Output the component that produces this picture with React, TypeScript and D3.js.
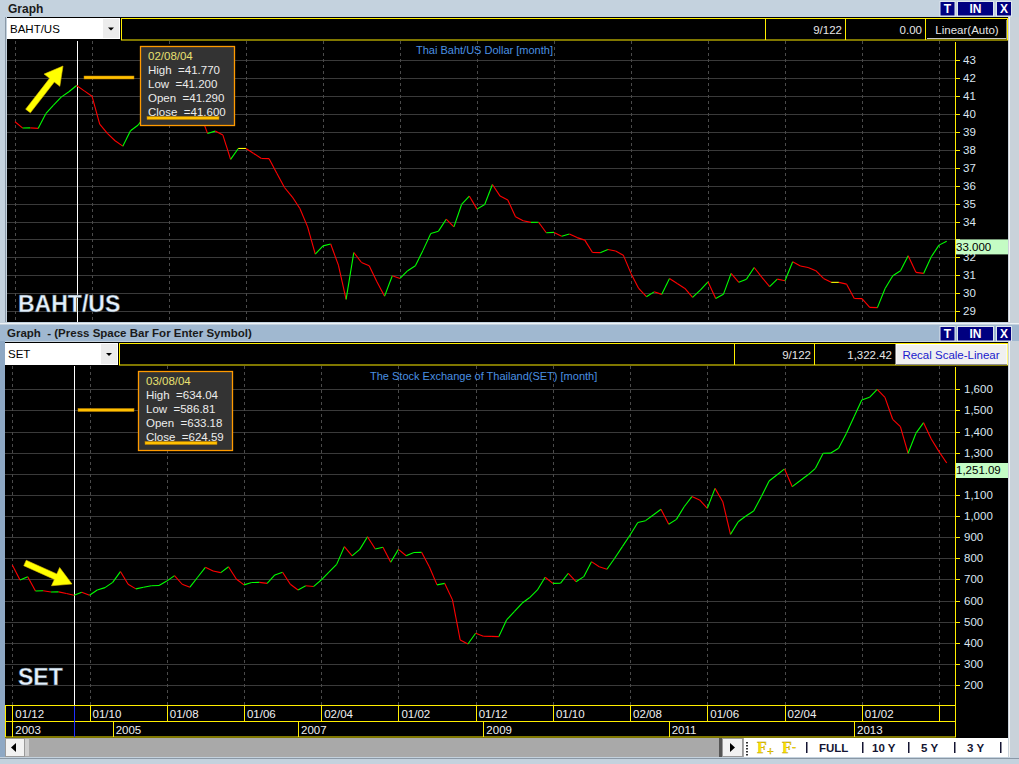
import * as d3 from 'd3'

// monthly closes, Dec 2003 .. Jan 2014 (122 bars)
const bahtClose = [
  39.57, 39.22, 39.23, 39.2, 40.02, 40.5, 40.95, 41.25, 41.6, 41.3,
  41.0, 39.44, 38.92, 38.51, 38.21, 39.07, 39.39, 40.0, 41.2, 41.6,
  41.2, 41.1, 40.9, 41.1, 40.1, 38.92, 39.05, 38.83, 37.47, 38.08,
  38.08, 37.8, 37.52, 37.51, 36.69, 35.9, 35.38, 34.73, 33.7, 32.18,
  32.64, 32.74, 31.56, 29.65, 32.27, 31.71, 31.53, 30.63, 29.83, 30.97,
  30.82, 31.25, 31.53, 32.4, 33.33, 33.46, 34.13, 33.7, 34.95, 35.42,
  34.69, 34.95, 36.07, 35.42, 35.2, 34.27, 34.04, 33.95, 33.96, 33.37,
  33.39, 33.18, 33.3, 33.1, 32.96, 32.27, 32.26, 32.44, 32.35, 32.12,
  31.1, 30.26, 29.8, 30.07, 29.93, 30.82, 30.54, 30.26, 29.76, 30.17,
  30.63, 29.7, 29.93, 31.1, 30.6, 30.78, 31.43, 30.88, 30.36, 30.78,
  30.69, 31.75, 31.51, 31.43, 31.25, 30.82, 30.6, 30.6, 30.5, 29.7,
  29.69, 29.2, 29.19, 30.26, 30.97, 31.25, 32.09, 31.16, 31.1, 32.03,
  32.68, 32.9,
]
const setClose = [
  768, 697, 713, 645, 646, 640, 641, 633, 625, 639,
  625, 650, 661, 686, 737, 677, 655, 663, 670, 671,
  692, 718, 677, 663, 710, 757, 740, 732, 760, 702,
  674, 685, 686, 681, 721, 734, 677, 650, 670, 666,
  697, 734, 771, 855, 811, 842, 902, 844, 852, 781,
  842, 812, 827, 828, 760, 674, 681, 603, 413, 394,
  445, 431, 430, 429, 508, 547, 587, 614, 650, 710,
  681, 682, 729, 689, 713, 784, 760, 748, 800, 855,
  910, 969, 978, 1005, 1032, 961, 984, 1044, 1092, 1076,
  1036, 1131, 1068, 913, 973, 1000, 1024, 1092, 1166, 1194,
  1223, 1139, 1167, 1194, 1226, 1297, 1298, 1321, 1391, 1470,
  1549, 1562, 1600, 1562, 1458, 1423, 1297, 1391, 1442, 1365,
  1305, 1251,
]

const monthTickIndex = [0, 10, 20, 30, 40, 50, 60, 70, 80, 90, 100, 110, 120]
const monthTickLabels = ['01/12', '01/10', '01/08', '01/06', '02/04', '01/02', '01/12', '01/10', '02/08', '01/06', '02/04', '01/02', '']
const yearTickIndex = [0, 13, 37, 61, 85, 109]
const yearTickLabels = ['2003', '2005', '2007', '2009', '2011', '2013']
const bahtTicks = [29, 30, 31, 32, 33, 34, 35, 36, 37, 38, 39, 40, 41, 42, 43]
const setTicks = [200, 300, 400, 500, 600, 700, 800, 900, 1000, 1100, 1200, 1300, 1400, 1500, 1600]
const crossIndex = 8
const bahtTip = ['02/08/04', 'High  =41.770', 'Low  =41.200', 'Open  =41.290', 'Close  =41.600']
const setTip = ['03/08/04', 'High  =634.04', 'Low  =586.81', 'Open  =633.18', 'Close  =624.59']
const bahtLast = 33.0
const setLast = 1251.09

const FONT = '"Liberation Sans", Arial, sans-serif'
const YELLOW = '#ffee00'
const GRID = '#3a3a3a'

const xTop = d3.scaleLinear().domain([0, 120]).range([15, 939])
const yTop = d3.scaleLinear().domain([29, 43]).range([311, 60.4])
const xBot = d3.scaleLinear().domain([0, 120]).range([12.3, 939])
const yBot = d3.scaleLinear().domain([200, 1600]).range([685, 389.3])

const segColor = (a: number, b: number) => (b > a ? '#00ff00' : b < a ? '#ff0000' : '#ffff00')

function PriceLine({ data, x, y }: { data: number[]; x: (v: number) => number; y: (v: number) => number }) {
  const line = d3.line<[number, number]>().x(d => x(d[0])).y(d => y(d[1]))
  return (
    <g fill="none" strokeWidth={1.1}>
      {data.slice(1).map((v, k) => (
        <path key={k} d={line([[k, data[k]], [k + 1, v]]) || ''} stroke={segColor(data[k], v)} />
      ))}
    </g>
  )
}

function arrowPath(x1: number, y1: number, x2: number, y2: number, shaft = 3, head = 10, headLen = 18) {
  const dx = x2 - x1, dy = y2 - y1, L = Math.hypot(dx, dy)
  const ux = dx / L, uy = dy / L, px = -uy, py = ux
  const bx = x2 - ux * headLen, by = y2 - uy * headLen
  return `M${x1 + px * shaft},${y1 + py * shaft} L${bx + px * shaft},${by + py * shaft} L${bx + px * head},${by + py * head} L${x2},${y2} L${bx - px * head},${by - py * head} L${bx - px * shaft},${by - py * shaft} L${x1 - px * shaft},${y1 - py * shaft} Z`
}

const TitleButtons = ({ y }: { y: number }) => (
  <g fontFamily={FONT} fontWeight="bold" fontSize={12} textAnchor="middle">
    {([['T', 940, 15], ['IN', 957.5, 36], ['X', 996.5, 15]] as [string, number, number][]).map(([t, bx, bw]) => (
      <g key={t}>
        <rect x={bx} y={y + 0.5} width={bw} height={14.5} fill="#000080" stroke="#dfe6ee" />
        <text x={bx + bw / 2} y={y + 12} fill="#fff">{t}</text>
      </g>
    ))}
  </g>
)

function Tip({ x, y, lines, ulY }: { x: number; y: number; lines: string[]; ulY: number }) {
  return (
    <g fontFamily={FONT} fontSize={11.5}>
      <rect x={x + 0.5} y={y + 0.5} width={94} height={79} fill="#333333" stroke="#ff9a00" strokeWidth={1.3} />
      {lines.map((t, i) => (
        <text key={i} x={x + 8} y={y + 14 + i * 14} fill={i === 0 ? '#e8e070' : '#ececec'} xmlSpace="preserve" style={{ whiteSpace: 'pre' }}>{t}</text>
      ))}
      <rect x={x + 7} y={ulY} width={72} height={3} fill="#ffc000" stroke="#c08000" strokeWidth={0.5} />
    </g>
  )
}

function Combo({ x, y, w, h, label }: { x: number; y: number; w: number; h: number; label: string }) {
  return (
    <g fontFamily={FONT} fontSize={11.5}>
      <rect x={x} y={y} width={w} height={h} fill="#fff" />
      <text x={x + 3} y={y + h / 2 + 4} fill="#000">{label}</text>
      <rect x={x + w - 17} y={y + 1} width={16} height={h - 2} fill="#ececec" />
      <path d={`M${x + w - 12},${y + h / 2 - 1} h6 l-3,3 z`} fill="#000" />
    </g>
  )
}

// tick labels hidden behind the last-value box are not drawn
const clearOf = (ty: number, boxY: number) => ty < boxY - 2 || ty > boxY + 15

export default function App() {
  const topPlot = { left: 7, top: 41, bottom: 322 }
  const botPlot = { left: 5, top: 366, bottom: 705 }
  return (
    <svg width={1019} height={764} style={{ position: 'absolute', left: 0, top: 0 }} fontFamily={FONT}>
      {/* window chrome */}
      <rect width={1019} height={764} fill="#c4d2de" />
      <rect x={0} y={325} width={1019} height={16} fill="#a0b8d0" />
      <rect x={0} y={341} width={5} height={416} fill="#8ea8c4" />
      <line x1={0} y1={323.5} x2={1019} y2={323.5} stroke="#eef2f6" />
      <text x={8} y={13} fontWeight="bold" fontSize={12} fill="#1a1a1a">Graph</text>
      <text x={7} y={337} fontWeight="bold" fontSize={11.5} fill="#1a1a1a" xmlSpace="preserve" style={{ whiteSpace: 'pre' }}>Graph  - (Press Space Bar For Enter Symbol)</text>
      <TitleButtons y={1} />
      <TitleButtons y={326} />
      <rect x={1008} y={17} width={11} height={306} fill="#c9d2da" />
      <line x1={1009.5} y1={17} x2={1009.5} y2={322} stroke="#f4f4f4" />
      <rect x={1008} y={341} width={11} height={416} fill="#c9d2da" />
      <line x1={1009.5} y1={341} x2={1009.5} y2={757} stroke="#f4f4f4" />
      <line x1={5.5} y1={17} x2={5.5} y2={322} stroke="#8a98a6" />

      {/* ---------- top panel ---------- */}
      <rect x={topPlot.left} y={17} width={1001} height={305} fill="#000" />
      <Combo x={7} y={18} w={113} h={21} label="BAHT/US" />
      <rect x={121.5} y={18.5} width={886} height={21.5} fill="#000" stroke={YELLOW} />
      {[765.5, 845.5, 925.5].map(v => <line key={v} x1={v} y1={18.5} x2={v} y2={40} stroke={YELLOW} />)}
      <g fontSize={11.5} fill="#e6e6e6" textAnchor="end">
        <text x={842} y={34}>9/122</text>
        <text x={922} y={34}>0.00</text>
      </g>
      <line x1={927} y1={38.5} x2={1006} y2={38.5} stroke="#c8c8c8" />
      <line x1={1006.5} y1={20} x2={1006.5} y2={39} stroke="#808080" />
      <text x={967} y={34} fontSize={11.5} fill="#e6e6e6" textAnchor="middle">Linear(Auto)</text>

      <g>
        {bahtTicks.map(t => (
          <line key={t} x1={topPlot.left} x2={955} y1={Math.round(yTop(t)) + 0.5} y2={Math.round(yTop(t)) + 0.5} stroke={GRID} />
        ))}
        {monthTickIndex.map(i => (
          <line key={i} x1={Math.round(xTop(i)) + 0.5} x2={Math.round(xTop(i)) + 0.5} y1={topPlot.top} y2={topPlot.bottom} stroke="#4a4a4a" strokeDasharray="3,3" />
        ))}
      </g>
      <text x={416} y={54} fontSize={11} fill="#4a90e2">Thai Baht/US Dollar [month]</text>
      <line x1={Math.round(xTop(crossIndex)) + 0.5} x2={Math.round(xTop(crossIndex)) + 0.5} y1={topPlot.top} y2={topPlot.bottom} stroke="#fff" />
      <PriceLine data={bahtClose} x={xTop} y={yTop} />
      <line x1={955.5} x2={955.5} y1={42} y2={322} stroke={YELLOW} />
      <g fontSize={11.5} fill="#dce6f0">
        {bahtTicks.map(t => (
          <g key={t}>
            <line x1={955} x2={960} y1={Math.round(yTop(t)) + 0.5} y2={Math.round(yTop(t)) + 0.5} stroke={YELLOW} />
            {clearOf(yTop(t), yTop(bahtLast)) && <text x={963} y={yTop(t) + 4}>{t}</text>}
          </g>
        ))}
      </g>
      <rect x={956} y={yTop(bahtLast)} width={52} height={15} fill="#c4fcc4" />
      <text x={956} y={yTop(bahtLast) + 11.5} fontSize={11.5} fill="#000">{bahtLast.toFixed(3)}</text>
      <Tip x={140} y={46} lines={bahtTip} ulY={116.5} />
      <rect x={84} y={76} width={50} height={3} fill="#ffc000" stroke="#c08000" strokeWidth={0.5} />
      <path d={arrowPath(28, 111, 63, 66)} fill="#ffff00" stroke="#e0c000" strokeWidth={0.6} />
      <text x={18} y={312} fontSize={23} fontWeight="bold" fill="#e4f0fa" stroke="#3a4a5a" strokeWidth={0.4}>BAHT/US</text>

      {/* ---------- bottom panel ---------- */}
      <rect x={botPlot.left} y={342} width={1003} height={396} fill="#000" />
      <Combo x={5} y={343} w={113} h={22} label="SET" />
      <rect x={119.5} y={343.5} width={888} height={21.5} fill="#000" stroke={YELLOW} />
      {[734.5, 814.5].map(v => <line key={v} x1={v} y1={343.5} x2={v} y2={365} stroke={YELLOW} />)}
      <g fontSize={11.5} fill="#e6e6e6" textAnchor="end">
        <text x={811} y={359}>9/122</text>
        <text x={892} y={359}>1,322.42</text>
      </g>
      <rect x={896} y={344.5} width={111} height={20} fill="#f0f0f0" stroke="#ffffff" />
      <line x1={896} y1={364.5} x2={1007} y2={364.5} stroke="#909090" />
      <text x={951} y={359} fontSize={11.5} fill="#1a1acd" textAnchor="middle">Recal Scale-Linear</text>

      <g>
        {setTicks.map(t => (
          <line key={t} x1={botPlot.left} x2={955} y1={Math.round(yBot(t)) + 0.5} y2={Math.round(yBot(t)) + 0.5} stroke={GRID} />
        ))}
        {monthTickIndex.map(i => (
          <line key={i} x1={Math.round(xBot(i)) + 0.5} x2={Math.round(xBot(i)) + 0.5} y1={botPlot.top} y2={botPlot.bottom} stroke="#4a4a4a" strokeDasharray="3,3" />
        ))}
      </g>
      <text x={370} y={380} fontSize={11} fill="#4a90e2">The Stock Exchange of Thailand(SET) [month]</text>
      <line x1={Math.round(xBot(crossIndex)) + 0.5} x2={Math.round(xBot(crossIndex)) + 0.5} y1={botPlot.top} y2={botPlot.bottom} stroke="#fff" />
      <PriceLine data={setClose} x={xBot} y={yBot} />
      <line x1={955.5} x2={955.5} y1={367} y2={705} stroke={YELLOW} />
      <g fontSize={11.5} fill="#dce6f0">
        {setTicks.map(t => (
          <g key={t}>
            <line x1={955} x2={960} y1={Math.round(yBot(t)) + 0.5} y2={Math.round(yBot(t)) + 0.5} stroke={YELLOW} />
            {clearOf(yBot(t), yBot(setLast)) && <text x={964} y={yBot(t) + 4}>{d3.format(',')(t)}</text>}
          </g>
        ))}
      </g>
      <rect x={956} y={yBot(setLast)} width={52} height={15} fill="#c4fcc4" />
      <text x={956} y={yBot(setLast) + 11.5} fontSize={11.5} fill="#000">{d3.format(',.2f')(setLast)}</text>
      <Tip x={138} y={371} lines={setTip} ulY={441.5} />
      <rect x={78} y={408.5} width={56} height={3} fill="#ffc000" stroke="#c08000" strokeWidth={0.5} />
      <path d={arrowPath(25, 563, 72, 584)} fill="#ffff00" stroke="#e0c000" strokeWidth={0.6} />
      <text x={18} y={685} fontSize={23} fontWeight="bold" fill="#e4f0fa" stroke="#3a4a5a" strokeWidth={0.4}>SET</text>

      {/* date axis */}
      <g fill="none" stroke={YELLOW}>
        <rect x={5.5} y={705.5} width={950} height={31.5} />
        <line x1={5.5} x2={955.5} y1={721.5} y2={721.5} />
        {monthTickIndex.map(i => (
          <line key={i} x1={Math.round(xBot(i)) + 0.5} x2={Math.round(xBot(i)) + 0.5} y1={706} y2={721} />
        ))}
        {yearTickIndex.map(i => (
          <line key={i} x1={Math.round(xBot(i)) + 0.5} x2={Math.round(xBot(i)) + 0.5} y1={722} y2={737} />
        ))}
      </g>
      <g fontSize={11.5} fill="#f0f0f0">
        {monthTickIndex.map((i, k) => (
          <text key={i} x={xBot(i) + 3} y={718}>{monthTickLabels[k]}</text>
        ))}
        {yearTickIndex.map((i, k) => (
          <text key={i} x={xBot(i) + 3} y={734}>{yearTickLabels[k]}</text>
        ))}
      </g>
      <line x1={Math.round(xBot(crossIndex)) + 0.5} x2={Math.round(xBot(crossIndex)) + 0.5} y1={706} y2={737} stroke="#2030ff" />

      {/* scroll bar + toolbar */}
      <rect x={5} y={738} width={1003} height={19} fill="#a9a9a9" />
      <rect x={25} y={739} width={4} height={17} fill="#cfcfcf" />
      <rect x={5.5} y={738.5} width={19} height={18} fill="#f2f2f2" stroke="#9a9a9a" />
      <path d="M11,747.5 l5,-4.5 v9 z" fill="#000" />
      <rect x={719} y={738} width={3} height={19} fill="#555" />
      <rect x={722.5} y={738.5} width={20} height={18} fill="#f2f2f2" stroke="#9a9a9a" />
      <path d="M735,747.5 l-5,-4.5 v9 z" fill="#000" />
      <rect x={744} y={738} width={264} height={19} fill="#ffffff" />
      {[742, 745, 748, 751, 754].map(v => <rect key={v} x={746} y={v} width={2} height={1.5} fill="#333" />)}
      <g fontFamily='"Liberation Serif", "Times New Roman", serif' fontWeight="bold" fill="#ffe600" stroke="#b09000" strokeWidth={0.3}>
        <text x={757} y={753} fontSize={16}>F</text>
        <text x={767} y={755} fontSize={12}>+</text>
        <text x={782} y={753} fontSize={16}>F</text>
        <text x={792} y={751} fontSize={12}>-</text>
      </g>
      <g fontSize={11.5} fontWeight="bold" fill="#141432">
        {[806, 862, 908, 954, 1000].map(v => <rect key={v} x={v} y={742} width={1.5} height={11} fill="#141432" />)}
        <text x={819} y={752}>FULL</text>
        <text x={872} y={752}>10 Y</text>
        <text x={921} y={752}>5 Y</text>
        <text x={967} y={752}>3 Y</text>
      </g>
      <line x1={0} y1={758.5} x2={1019} y2={758.5} stroke="#8a98a6" />
    </svg>
  )
}
